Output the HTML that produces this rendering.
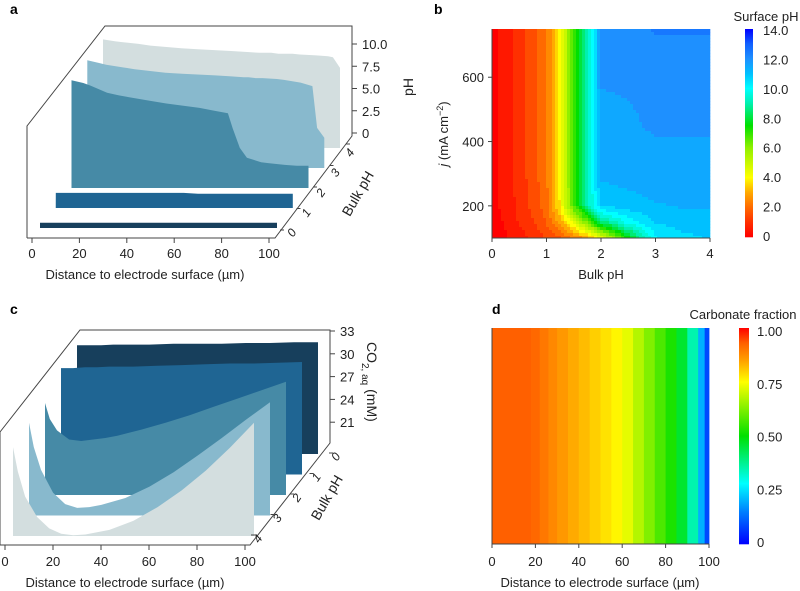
<!DOCTYPE html>
<html><head><meta charset="utf-8"><style>
html,body{margin:0;padding:0;background:#fff;}
svg{display:block;font-family:"Liberation Sans",Arial,sans-serif;}
</style></head><body>
<svg id="fig" width="800" height="591" viewBox="0 0 800 591" xmlns="http://www.w3.org/2000/svg">
<g id="pa"></g>
<g id="pb"></g>
<g id="pc"></g>
<g id="pd"></g>
</svg>
<script>
// ---------- Panel a data ----------
const aDist = [0,5,8,15,20,33,40,54,60,66,68,71,74,80,83,90,95,97,100];
const aBulk = [0,1,2,3,4];
const aPH0 = [0.6,0.6,0.6,0.6,0.6,0.6,0.6,0.6,0.6,0.6,0.6,0.6,0.6,0.6,0.6,0.6,0.6,0.6,0.6];
const aPH1 = [1.7,1.7,1.7,1.7,1.7,1.7,1.7,1.7,1.6,1.6,1.6,1.6,1.6,1.6,1.6,1.6,1.6,1.6,1.6];
const aPH2 = [12.1,11.8,11.5,10.7,10.4,9.8,9.5,9.0,8.7,8.4,6.7,4.5,3.4,2.9,2.8,2.6,2.5,2.5,2.5];
const aPH3 = [12.1,11.8,11.6,11.3,11.1,10.7,10.6,10.4,10.3,10.2,10.2,10.1,10.1,10.0,9.9,9.6,9.2,4.5,3.4];
const aPH4 = [12.2,12.0,11.9,11.7,11.5,11.2,11.1,10.9,10.8,10.7,10.7,10.7,10.6,10.6,10.5,10.4,10.3,10.2,9.0];
const aYTicks = ["0","2.5","5.0","7.5","10.0"];
const aXTicks = [0,20,40,60,80,100];

// ---------- Panel b data ----------
const bBulk = [0,0.25,0.5,0.75,1,1.25,1.5,1.75,2,2.5,3,3.5,4];
const bJ = [100,150,200,300,450,600,750];
const bRow100 = [0,0.2,0.5,0.9,1.3,1.7,2.3,3.0,4.5,7.5,10.2,10.6,10.8];
const bRow150 = [0.05,0.3,0.8,1.2,1.8,3.0,4.5,6.5,8.5,10.0,10.8,11.0,11.0];
const bRow200 = [0.1,0.4,0.9,1.4,2.0,3.8,6.8,9.0,10.8,11.0,11.2,11.3,11.3];
const bRow300 = [0.1,0.5,1.0,1.5,2.2,4.0,7.0,9.0,11.4,11.5,11.6,11.6,11.6];
const bRow450 = [0.1,0.5,1.0,1.5,2.2,4.0,7.0,9.0,11.6,11.7,11.8,11.8,11.8];
const bRow600 = [0.1,0.5,1.0,1.5,2.2,4.0,7.0,9.0,11.8,11.8,11.8,11.8,11.8];
const bRow750 = [0.1,0.5,1.0,1.5,2.2,4.0,7.0,9.0,11.9,12.0,12.3,12.3,12.3];
const bXTicks = [0,1,2,3,4];
const bYTicks = [200,400,600];
const bCbTicks = ["0","2.0","4.0","6.0","8.0","10.0","12.0","14.0"];

// ---------- Panel c data ----------
const cDist = [0,2,5,10,15,20,25,30,40,50,60,70,80,90,100];
const cBulk = [0,1,2,3,4];
const cCO2_0 = [32.3,32.3,32.3,32.3,32.4,32.4,32.4,32.4,32.5,32.5,32.5,32.6,32.6,32.7,32.7];
const cCO2_1 = [32.0,32.0,32.0,32.1,32.1,32.2,32.2,32.2,32.3,32.4,32.5,32.6,32.6,32.7,32.8];
const cCO2_2 = [30.1,28.0,26.5,25.3,25.1,25.3,25.5,25.8,26.6,27.5,28.5,29.6,30.7,31.8,32.9];
const cCO2_3 = [30.2,27.0,24.0,21.0,19.5,19.0,19.1,19.4,20.3,21.8,23.7,25.9,28.2,30.6,32.9];
const cCO2_4 = [29.7,26.5,23.2,20.5,19.0,18.3,18.1,18.2,18.8,20.0,21.8,24.0,26.6,29.6,32.9];
const cYTicks = [21,24,27,30,33];
const cXTicks = [0,20,40,60,80,100];

// ---------- Panel d data ----------
const dDist = [0,10,18,22,26,30,35,40,45,50,55,60,65,70,75,80,85,90,95,98,100];
const dFrac = [0.93,0.93,0.93,0.91,0.89,0.87,0.85,0.83,0.81,0.79,0.77,0.75,0.70,0.65,0.60,0.55,0.50,0.42,0.28,0.12,0.05];
const dXTicks = [0,20,40,60,80,100];
const dCbTicks = ["0","0.25","0.50","0.75","1.00"];

const NS = "http://www.w3.org/2000/svg";
function mk(parent, tag, attrs, text){
  const e = document.createElementNS(NS, tag);
  for (const k in attrs) e.setAttribute(k, attrs[k]);
  if (text !== undefined) e.textContent = text;
  parent.appendChild(e);
  return e;
}
function hex(c){return [parseInt(c.slice(1,3),16),parseInt(c.slice(3,5),16),parseInt(c.slice(5,7),16)];}
function cmap(stops, v){
  if (v <= stops[0][0]) return stops[0][1];
  for (let i=1;i<stops.length;i++){
    if (v <= stops[i][0]){
      const t=(v-stops[i-1][0])/(stops[i][0]-stops[i-1][0]);
      const a=hex(stops[i-1][1]), b=hex(stops[i][1]);
      return "rgb("+a.map((x,j)=>Math.round(x+(b[j]-x)*t)).join(",")+")";
    }
  }
  return stops[stops.length-1][1];
}
const bStops = [[0,"#ff0000"],[1,"#ff3000"],[2,"#ff6a00"],[3,"#ffaa00"],[4,"#ffff00"],[6,"#90f000"],[7.5,"#00e000"],[9,"#00f0b0"],[10,"#00ffff"],[11,"#00c0ff"],[12,"#1e90ff"],[13,"#1060ff"],[14,"#0000ff"]];
const dStops = [[0,"#0000ff"],[0.15,"#0080ff"],[0.28,"#00ffff"],[0.5,"#00e000"],[0.75,"#ffff00"],[0.85,"#ffa000"],[0.93,"#ff6000"],[1,"#ff0000"]];

// ================= Panel a =================
(function(){
  const g = document.getElementById('pa');
  const t = mk(g,'text',{x:10,y:14,'font-size':14,'font-weight':'bold'},'a');
  
  
  const series=[aPH0,aPH1,aPH2,aPH3,aPH4];
  const colors=["#173f5c","#1f6593","#468aa6","#88b9cd","#d3dedf"];
  const xs = (k,d)=>40+aBulk[k]*15.75+d*2.37;
  const base = k=>148+(4-aBulk[k])*20;
  const ys = (k,v)=>base(k)-v*8.9;
  const box = mk(g,'polyline',{points:"27,238 27,126 105,26 352,26 352,136 275,238 27,238",fill:"none",stroke:"#444","stroke-width":1});
  
  
  for (let k=4;k>=0;k--){
    let d = "M"+xs(k,aDist[0])+","+base(k);
    aDist.forEach((x,i)=>{ d+=" L"+xs(k,x).toFixed(1)+","+ys(k,series[k][i]).toFixed(1); });
    d+=" L"+xs(k,aDist[aDist.length-1]).toFixed(1)+","+base(k)+" Z";
    const p = mk(g,'path',{d:d,fill:colors[k]});
    
    
  }
  aYTicks.forEach((lab,i)=>{
    const y = 133 - parseFloat(lab)*8.9;
    mk(g,'line',{x1:352,y1:y,x2:357,y2:y,stroke:"#444"});
    const tt = mk(g,'text',{x:362,y:y+5,'font-size':13,fill:'#222'},lab);
    
    
  });
  const yl = mk(g,'text',{x:0,y:0,'font-size':14,'text-anchor':'middle',fill:'#222',transform:"translate(413,87) rotate(-90)"},'pH');
  
  
  aXTicks.forEach(v=>{
    const x = 32+v*2.37;
    mk(g,'line',{x1:x,y1:238,x2:x,y2:243,stroke:"#444"});
    const tt = mk(g,'text',{x:x,y:258,'font-size':13,'text-anchor':'middle',fill:'#222'},String(v));
    
    
  });
  const xl = mk(g,'text',{x:145,y:279,'font-size':13,'text-anchor':'middle',fill:'#222'},'Distance to electrode surface (µm)');
  
  
  aBulk.forEach(b=>{
    const lx = 295+b*14.5, ly = 231-b*20;
    const tx = 280+b*16.5, ty = 230-b*21.5;
    mk(g,'line',{x1:tx,y1:ty,x2:tx+4,y2:ty,stroke:"#444"});
    const tt = mk(g,'text',{x:0,y:0,'font-size':12,'font-style':'italic','text-anchor':'middle',fill:'#222',transform:`translate(${lx},${ly+4}) rotate(-55)`},String(b));
    
    
  });
  const zl = mk(g,'text',{x:0,y:0,'font-size':14,'text-anchor':'middle',fill:'#222',transform:"translate(362,196) rotate(-60)"},'Bulk pH');
  
  
})();

// ================= Panel b =================
(function(){
  const g = document.getElementById('pb');
  const t = mk(g,'text',{x:434,y:14,'font-size':14,'font-weight':'bold'},'b');
  
  
  const X0=492,X1=710,Y0=29,Y1=238;
  const xs = v=>X0+(v/4)*(X1-X0);
  const ys = j=>Y1-(j-100)/650*(Y1-Y0);
  const rows=[bRow100,bRow150,bRow200,bRow300,bRow450,bRow600,bRow750];
  function val(b,j){
    let i=0; while(i<bBulk.length-2 && b>bBulk[i+1]) i++;
    let r=0; while(r<bJ.length-2 && j>bJ[r+1]) r++;
    const tx=(b-bBulk[i])/(bBulk[i+1]-bBulk[i]), ty=(j-bJ[r])/(bJ[r+1]-bJ[r]);
    const a=rows[r][i]*(1-tx)+rows[r][i+1]*tx, c=rows[r+1][i]*(1-tx)+rows[r+1][i+1]*tx;
    return a*(1-ty)+c*ty;
  }
  const hm = mk(g,'g',{});
  
  
  const step=3;
  for (let px=X0; px<X1; px+=step){
    for (let py=Y0; py<Y1; py+=step){
      const b=(px+step/2-X0)/(X1-X0)*4, j=100+(Y1-(py+step/2))/(Y1-Y0)*650;
      const v=Math.round(val(b,j)*2)/2;
      const r = mk(hm,'rect',{x:px,y:py,width:Math.min(step,X1-px)+0.3,height:Math.min(step,Y1-py)+0.3,fill:cmap(bStops,v)});
      
      
    }
  }
  mk(g,'line',{x1:X0,y1:Y1,x2:X1,y2:Y1,stroke:"#444"});
  mk(g,'line',{x1:X0,y1:Y0,x2:X0,y2:Y1,stroke:"#444"});
  bXTicks.forEach(v=>{
    mk(g,'line',{x1:xs(v),y1:Y1,x2:xs(v),y2:Y1+4,stroke:"#444"});
    const tt=mk(g,'text',{x:xs(v),y:258,'font-size':13,'text-anchor':'middle',fill:'#222'},String(v));
    
    
  });
  bYTicks.forEach(v=>{
    mk(g,'line',{x1:X0-4,y1:ys(v),x2:X0,y2:ys(v),stroke:"#444"});
    const tt=mk(g,'text',{x:X0-8,y:ys(v)+5,'font-size':13,'text-anchor':'end',fill:'#222'},String(v));
    
    
  });
  const xl=mk(g,'text',{x:601,y:279,'font-size':13,'text-anchor':'middle',fill:'#222'},'Bulk pH');
  
  
  const yl=mk(g,'text',{x:0,y:0,'font-size':13,'text-anchor':'middle',fill:'#222',transform:"translate(448,134) rotate(-90)"});
  
  
  mk(yl,'tspan',{'font-style':'italic'},'j');
  mk(yl,'tspan',{},' (mA cm');
  mk(yl,'tspan',{dy:-5,'font-size':9},'−2');
  mk(yl,'tspan',{dy:5},')');
  const cb=mk(g,'g',{});
  
  
  for (let y=29;y<237;y++){
    const v=(237-y-0.5)/208*14;
    mk(cb,'rect',{x:745,y:y,width:8,height:1.3,fill:cmap(bStops,v)});
  }
  bCbTicks.forEach(lab=>{
    const y=237-parseFloat(lab)/14*(237-31);
    const tt=mk(g,'text',{x:763,y:y+4,'font-size':13,fill:'#222'},lab);
    
    
  });
  const ct=mk(g,'text',{x:766,y:21,'font-size':13,'text-anchor':'middle',fill:'#222'},'Surface pH');
  
  
})();

// ================= Panel c =================
(function(){
  const g = document.getElementById('pc');
  const t = mk(g,'text',{x:10,y:314,'font-size':14,'font-weight':'bold'},'c');
  
  
  const series=[cCO2_0,cCO2_1,cCO2_2,cCO2_3,cCO2_4];
  const colors=["#173f5c","#1f6593","#468aa6","#88b9cd","#d3dedf"];
  const xs=(k,d)=>77-cBulk[k]*16+d*2.41;
  const base=k=>454+cBulk[k]*20.5;
  const ys=(k,v)=>base(k)-(v-18)*7.6;
  const box=mk(g,'polyline',{points:"0,545 0,432 80,330 330,330 330,443 250,545 0,545",fill:"none",stroke:"#444","stroke-width":1});
  
  
  for (let k=0;k<5;k++){
    let d="M"+xs(k,cDist[0]).toFixed(1)+","+base(k);
    cDist.forEach((x,i)=>{ d+=" L"+xs(k,x).toFixed(1)+","+ys(k,series[k][i]).toFixed(1); });
    d+=" L"+xs(k,cDist[cDist.length-1]).toFixed(1)+","+base(k)+" Z";
    const p=mk(g,'path',{d:d,fill:colors[k]});
    
    
  }
  cYTicks.forEach(v=>{
    const y=331+(33-v)*7.6;
    mk(g,'line',{x1:330,y1:y,x2:335,y2:y,stroke:"#444"});
    const tt=mk(g,'text',{x:340,y:y+5,'font-size':13,fill:'#222'},String(v));
    
    
  });
  const yl=mk(g,'text',{x:0,y:0,'font-size':14,fill:'#222',transform:"translate(367,342) rotate(90)"});
  
  
  mk(yl,'tspan',{},'CO');
  mk(yl,'tspan',{dy:5,'font-size':10},'2, aq');
  mk(yl,'tspan',{dy:-5},' (mM)');
  cXTicks.forEach(v=>{
    const x=5+v*2.4;
    mk(g,'line',{x1:x,y1:545,x2:x,y2:550,stroke:"#444"});
    const tt=mk(g,'text',{x:x,y:566,'font-size':13,'text-anchor':'middle',fill:'#222'},String(v));
    
    
  });
  const xl=mk(g,'text',{x:125,y:587,'font-size':13,'text-anchor':'middle',fill:'#222'},'Distance to electrode surface (µm)');
  
  
  cBulk.forEach(b=>{
    const x=330-b*19.5, y=453+b*20.5;
    mk(g,'line',{x1:x-1,y1:y,x2:x+3,y2:y,stroke:"#444"});
    const tt=mk(g,'text',{x:0,y:0,'font-size':12,'font-style':'italic','text-anchor':'middle',fill:'#222',transform:`translate(${x+9},${y+6}) rotate(-55)`},String(b));
    
    
  });
  const zl=mk(g,'text',{x:0,y:0,'font-size':14,'text-anchor':'middle',fill:'#222',transform:"translate(331,500) rotate(-60)"},'Bulk pH');
  
  
})();

// ================= Panel d =================
(function(){
  const g=document.getElementById('pd');
  const t=mk(g,'text',{x:492,y:314,'font-size':14,'font-weight':'bold'},'d');
  
  
  const X0=492,X1=709,Y0=328,Y1=544;
  const xs=v=>X0+v/100*(X1-X0);
  const hm=mk(g,'g',{});
  
  
  for (let i=0;i<dDist.length-1;i++){
    const v=(dFrac[i]+dFrac[i+1])/2;
    const r=mk(hm,'rect',{x:xs(dDist[i]),y:Y0,width:xs(dDist[i+1])-xs(dDist[i])+0.4,height:Y1-Y0,fill:cmap(dStops,v)});
    
    
  }
  mk(g,'line',{x1:X0,y1:Y1,x2:X1,y2:Y1,stroke:"#444"});
  mk(g,'line',{x1:X0,y1:Y0,x2:X0,y2:Y1,stroke:"#444"});
  dXTicks.forEach(v=>{
    mk(g,'line',{x1:xs(v),y1:Y1,x2:xs(v),y2:Y1+4,stroke:"#444"});
    const tt=mk(g,'text',{x:xs(v),y:566,'font-size':13,'text-anchor':'middle',fill:'#222'},String(v));
    
    
  });
  const xl=mk(g,'text',{x:600,y:587,'font-size':13,'text-anchor':'middle',fill:'#222'},'Distance to electrode surface (µm)');
  
  
  const cb=mk(g,'g',{});
  
  
  for (let y=328;y<544;y++){
    const v=(544-y-0.5)/216;
    mk(cb,'rect',{x:739,y:y,width:10,height:1.3,fill:cmap(dStops,v)});
  }
  dCbTicks.forEach(lab=>{
    const y=542-parseFloat(lab)*211;
    const tt=mk(g,'text',{x:757,y:y+5,'font-size':13,fill:'#222'},lab);
    
    
  });
  const ct=mk(g,'text',{x:743,y:319,'font-size':13,'text-anchor':'middle',fill:'#222'},'Carbonate fraction');
  
  
})();
</script>
</body></html>
